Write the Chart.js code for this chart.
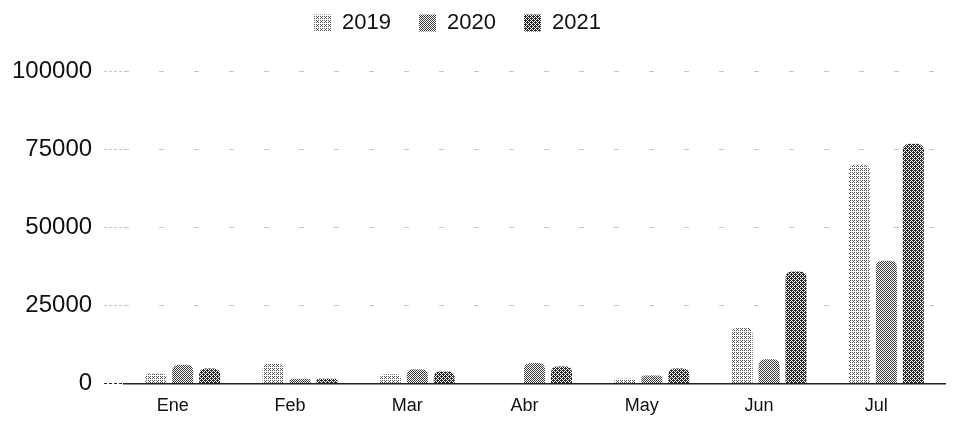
<!DOCTYPE html>
<html>
<head>
<meta charset="utf-8">
<title>2019-2021</title>
<script src="https://cdn.jsdelivr.net/npm/chart.js@4"></script>
<style>
  html, body { margin: 0; padding: 0; background: #fff; }
  #wrap { width: 957px; height: 421px; }
</style>
</head>
<body>
<div id="wrap"><canvas id="chart" width="957" height="421"></canvas></div>
<script>
// ---------- Data ----------
const months = ['Ene', 'Feb', 'Mar', 'Abr', 'May', 'Jun', 'Jul'];
const years = ['2019', '2020', '2021'];
const v2019 = [3200, 6400, 2900, 0, 1500, 17900, 70000];
const v2020 = [6000, 1500, 4500, 6500, 2500, 7700, 39300];
const v2021 = [4800, 1500, 3800, 5400, 4800, 35800, 76700];
const yTicks = [0, 25000, 50000, 75000, 100000];

// ---------- dither fills (ordered, 4x4 bayer) ----------
const bayer = [
  [0, 8, 2, 10],
  [12, 4, 14, 6],
  [3, 11, 1, 9],
  [15, 7, 13, 5]
];
function ditherFill(density, ink){
  const c = document.createElement('canvas');
  c.width = 4; c.height = 4;
  const g = c.getContext('2d');
  g.fillStyle = '#fff'; g.fillRect(0, 0, 4, 4);
  g.fillStyle = ink;
  for(let y = 0; y < 4; y++){
    for(let x = 0; x < 4; x++){
      if(bayer[y][x] < density * 16) g.fillRect(x, y, 1, 1);
    }
  }
  return g.createPattern(c, 'repeat');
}
const fills = [ditherFill(0.3, '#555'), ditherFill(0.45, '#3a3a3a'), ditherFill(0.6, '#2a2a2a')];

const FONT = 'Liberation Sans, Arial, sans-serif';
const series = [v2019, v2020, v2021];

// legend: keep it up top, push the plot down, nudge it left a bit
const legendTweak = {
  id: 'legendTweak',
  beforeInit(chart){
    const lg = chart.legend;
    const fit = lg.fit;
    lg.fit = function(){ fit.call(this); this.height = 71; };
  },
  afterLayout(chart){
    const lg = chart.legend;
    lg.top -= 16; lg.bottom -= 16;
    lg.left -= 30;
  }
};

new Chart(document.getElementById('chart').getContext('2d'), {
  type: 'bar',
  data: {
    labels: months,
    datasets: years.map((y, i) => ({
      label: y,
      data: series[i],
      backgroundColor: fills[i],
      borderWidth: 0,
      borderRadius: { topLeft: 6, topRight: 6 },
      borderSkipped: 'start',
      categoryPercentage: 0.69,
      barPercentage: 0.78
    }))
  },
  plugins: [legendTweak],
  options: {
    responsive: false,
    animation: false,
    devicePixelRatio: 1,
    layout: { padding: { left: 0, right: 12, top: 0, bottom: -8 } },
    plugins: {
      tooltip: { enabled: false },
      legend: {
        position: 'top',
        labels: {
          color: '#111',
          font: { family: FONT, size: 22 },
          boxWidth: 17, boxHeight: 17,
          padding: 28
        }
      }
    },
    scales: {
      x: {
        grid: { display: false, drawTicks: false },
        border: { display: true, color: '#222', width: 1.5, dash: [3, 2] },
        ticks: {
          color: '#111',
          font: { family: FONT, size: 18 },
          padding: 12,
          labelOffset: -10
        }
      },
      y: {
        min: 0, max: 100000,
        afterBuildTicks: (axis) => { axis.ticks = yTicks.map(v => ({ value: v })); },
        grid: {
          color: (ctx) => ctx.tick && ctx.tick.value === 0 ? 'rgba(0,0,0,0)' : 'rgba(0,0,0,0.22)',
          tickColor: (ctx) => ctx.tick && ctx.tick.value === 0 ? '#222' : 'rgba(0,0,0,0.22)',
          tickLength: 20,
          tickBorderDash: [3, 2]
        },
        border: { display: false, dash: [5, 30] },
        ticks: {
          color: '#111',
          font: { family: FONT, size: 24 },
          padding: 12,
          callback: (v) => String(v)
        }
      }
    }
  }
});
</script>
</body>
</html>
